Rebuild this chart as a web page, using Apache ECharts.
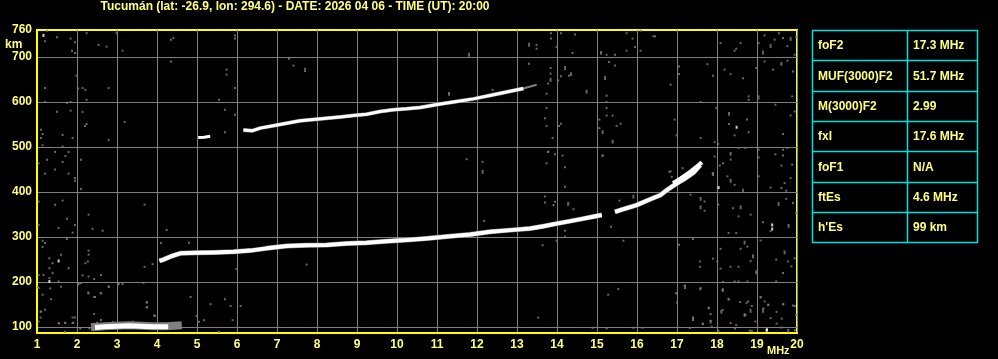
<!DOCTYPE html>
<html>
<head>
<meta charset="utf-8">
<script src="https://cdn.jsdelivr.net/npm/echarts@6/dist/echarts.min.js"></script>
<style>
html,body{margin:0;padding:0;background:#000;}
#chart{width:998px;height:359px;}
</style>
</head>
<body>
<div id="chart"></div>
<script>
// ---- data ----
const titleText = 'Tucumán (lat: -26.9, lon: 294.6) - DATE: 2026 04 06 - TIME (UT): 20:00';
const freqTicks = [1,2,3,4,5,6,7,8,9,10,11,12,13,14,15,16,17,18,19,20];
const heightTicks = [100,200,300,400,500,600,700,760];

const tableLabels = ['foF2','MUF(3000)F2','M(3000)F2','fxI','foF1',"ftEs","h'Es"];
const tableValues = ['17.3 MHz','51.7 MHz','2.99','17.6 MHz','N/A','4.6 MHz','99 km'];

// sporadic E trace [MHz, km]
const esTraceGray = [[2.35,100],[2.7,102],[3.0,103],[3.3,104],[3.6,103],[3.9,102],[4.2,102],[4.45,103],[4.62,104]];
const esTrace = [[2.45,99],[2.7,101],[3.0,102],[3.3,103],[3.6,102],[3.9,101],[4.28,101]];
// F2 ordinary trace, first segment
const f2TraceA = [[4.06,247],[4.16,250],[4.37,258],[4.58,264],[4.99,265],[5.41,266],[5.91,267.5],[6.33,270],[6.74,275],[7.24,280],[7.74,282],[8.24,282.5],[8.74,286],[9.24,287.5],[9.74,291],[10.24,293.5],[10.74,297],[11.33,302],[11.83,306],[12.33,312],[12.83,315.5],[13.33,319],[13.66,324],[13.99,330],[14.33,335.5],[14.66,341],[14.99,347],[15.12,349]];
// F2 trace, second segment (towards the cusp)
const f2TraceB = [[15.45,356],[15.66,362],[15.99,371],[16.33,384],[16.58,393],[16.74,404],[16.99,419],[17.2,430],[17.41,443],[17.58,460]];
// extraordinary edge near the critical frequency
const fxTrace = [[16.9,420],[17.1,431],[17.3,443],[17.5,457],[17.62,466]];
// second hop / upper trace
const upperTrace = [[6.16,538],[6.37,536],[6.58,542],[6.83,546],[7.24,553],[7.58,558.5],[7.91,561],[8.24,564],[8.58,567],[8.91,570],[9.24,573],[9.58,579],[9.91,583],[10.24,585],[10.58,588],[11.08,595.5],[11.41,600],[11.91,607],[12.41,616],[12.83,624],[13.16,630]];
const upperTail = [[13.16,630],[13.49,638.5]];
const smallBlob = [[5.03,521],[5.18,522],[5.33,524]];

// isolated white dots
const noiseWhite = [[1.54,247],[1.31,201.5],[18.49,544],[18.04,410],[19.38,327],[19.38,318],[19.25,94],[19.24,93],[1.16,748]];
// grey noise dots
const noiseGray = [
[1.25,758.5],[1.50,744],[1.20,735],[1.84,741],[1.95,733],[2.24,753],[1.875,714],[1.95,709],[2.54,727],[2.74,723],[3.14,714],[2.99,753],
[1.99,658.5],[1.20,631],[2.03,630],[2.14,631],[2.21,627],[2.79,631],[2.24,605],[1.20,600],[1.75,598.5],[1.84,600],[1.84,581],[1.50,578.5],
[2.14,578],[2.24,551],[2.20,547],[3.19,555.5],[1.10,538.5],[1.14,529],[1.10,520],[1.64,527],[1.89,520],[2.79,516],[1.14,504],[1.64,501],
[1.45,489],[1.79,489],[1.71,480],[1.25,472],[1.64,467],[1.04,464],[2.10,472],[1.45,450],[1.20,441],[1.79,441],[1.95,431],[1.95,425],
[2.10,407],[1.04,379],[1.45,372],[1.64,381],[3.69,372],[2.29,350],[1.75,341],[1.54,320],[1.95,327],[1.04,327],[2.39,318.5],[2.64,314],
[1.89,310],[1.75,296],[1.14,292],[1.20,287],[1.14,278],[4.10,287],[2.29,270],[2.29,261],[1.31,253],[1.60,261],[1.39,242],[1.31,231],
[1.79,231],[2.21,242],[2.27,246],[3.69,234],[3.89,240],[1.04,216],[1.16,216],[1.39,220],[1.31,209],[1.54,201.5],[2.04,196],[2.10,198],
[3.04,196],[3.14,196],[2.14,215],[2.29,212.5],[2.43,207],[2.60,216],[2.79,190],[1.04,187],[1.14,172],[1.35,162],[2.29,175],[2.43,167],
[2.60,175],[3.75,155],[3.75,144],[1.10,135],[1.20,138.5],[1.89,121.5],[1.89,109],[1.54,109],[1.71,109],[2.43,129],[2.60,116],[3.93,126],[1.04,112.5],
[1.02,188],[1.33,186],[1.60,190],[1.09,134],[1.09,121.5],[1.55,108],[1.70,110],[1.91,110],[1.95,121.5],[2.03,197],[2.28,177],[2.45,167],
[2.59,176],[2.80,190],[3.03,195.5],[3.66,198.5],[3.74,155.5],[3.74,144],[3.95,125],[4.84,167],[5.34,151],[5.70,162],[5.84,147],[6.09,147],
[5.89,115.5],[4.99,125],[5.05,112],[5.18,115.5],[5.55,90],[1.70,90],[2.08,97],[2.31,97],[2.5,110],[2.9,111],[3.4,112],[3.55,110],[4.1,108],[4.5,98],
[4.35,738.5],[4.41,742],[5.95,748],[5.95,741],[4.35,690],[5.74,672],[5.74,661],[5.95,631],[5.55,605],[5.70,583],[5.95,572],[5.70,533],
[7.30,696],[7.41,681],[7.70,674],[7.70,669],[4.8,287.5],[5.99,229],[7.74,239],[4.24,316],
[11.8,707],[11.8,703],[13.3,729.6],[13.3,725],[13.49,727],[13.49,718.5],[13.85,753],[14.1,753],[14.45,750],[13.85,741],[13.99,722],[14.39,709],
[15.1,711],[15.1,707],[15.24,705],[15.45,705],[15.74,753],[15.89,741],[15.95,722],[15.74,714],[16.09,758.5],[16.09,714],[16.41,746],[16.45,746],
[13.3,685],[13.84,675.5],[13.84,663],[13.84,651],[13.84,647],[14.1,657],[14.2,678],[14.2,673],[14.35,664],[14.35,660],[14.3,658.5],[14.03,648],[13.78,641],
[13.74,618.5],[14.74,625],[14.74,621],[15.2,655.5],[15.2,651],[15.3,689],[15.45,681],[15.24,614],[15.24,600],[15.24,587],[15.24,570],[15.39,570],
[15.06,561],[15.06,542],[15.14,535],[15.14,531],[15.49,547],[15.59,552],[15.39,514],[15.39,510],[13.74,587],[13.7,564],[13.74,547],[14.05,547],[14.1,552],
[13.89,520],[13.78,489],[13.95,484],[14.14,481],[15.14,481],[11.3,620],[11.3,616],[12.39,627],
[11.74,473],[12.14,467],[12.14,447],[12.14,443],[13.74,464],[13.78,490],[14.2,455],[15.14,481],[13.7,390],[13.7,377],[13.95,378.5],[13.91,371],
[14.28,376],[14.28,372],[14.41,362],[14.2,412],[12.18,336],[14.2,314],[14.2,301],[13.99,292],[13.64,282],[15.35,323],[15.66,292],[15.91,392],[15.91,388],
[15.56,381],[16.81,445],[16.87,434],[17.14,453],[17.31,447],[17.62,464],[17.89,441.5],
[13.53,121],[15.28,172],[15.53,185],[14.89,98.5],[15.24,97],[15.91,98.5],[16.14,98.5],[17.0,175],[17.0,155],[17.2,191],[17.2,187],[17.58,184],
[17.4,121.5],[17.8,143],[17.84,129],[17.84,114],[17.84,110],[17.64,108],[17.87,101],[18.03,90],[18.14,184],[18.14,180],[18.14,138],[18.29,161],
[18.45,97],[18.58,156],[18.74,154],[18.69,129],[18.69,125],[18.87,147],[18.87,92],[19.09,167],[19.16,141.5],[19.28,149],[19.49,134],[19.62,119],
[19.66,151],[19.49,108],[19.78,90],[19.95,147],[19.95,93],
[18.09,731],[18.48,718.5],[18.59,731],[18.44,714],[19.04,731],[19.15,712.5],[19.15,708],[19.19,748],[19.34,727],[19.34,722],[19.44,738.5],[19.55,753],
[19.65,742],[19.76,724],[19.84,742],[19.84,738],[19.94,705],[19.98,744],[17.05,679],[17.05,662],[17.76,684],[17.9,658.5],[18.19,672],[18.34,662],
[18.65,653],[18.98,675.5],[19.19,690],[19.40,672],[19.61,687],[19.61,683],[19.76,692],[19.9,668],[16.84,638.5],[17.59,600],[18.79,612.6],[18.79,605],
[19.04,612.6],[19.04,608],[19.46,594],[19.88,612.6],[17.98,587],[18.3,575.5],[18.3,572],[18.3,551],[18.75,561],[18.44,526],[18.79,533],[16.94,561],
[19.65,529],[19.84,570],[19.94,579],[16.99,526],[17.59,520],[17.94,511],[18.03,507],[18.34,487],[18.34,483],[18.54,498],[18.71,498],[19.04,494],
[19.04,477],[19.46,484],[19.65,494],[19.76,498],[19.65,481.5],[19.61,459],[19.88,461],[16.84,446],[17.94,479],[18.07,459],[18.15,464],
[18.34,472],[17.9,442],[17.9,438],[18.26,435],[18.34,427],[18.34,423],[18.44,416],[18.65,405],[18.65,401],[19.04,435],[19.34,410],[19.61,409],
[19.69,420],[19.73,403],[19.84,431],[17.34,394],[17.59,387],[17.59,383],[17.69,379],[17.59,368],[17.59,364],[17.69,358.5],[18.03,372],[18.40,364],
[18.59,368],[18.59,364],[18.54,346],[18.84,350],[19.15,333],[19.34,313],[19.54,375.5],[19.54,371],[19.73,385],[19.79,327],[19.79,323],[19.9,375.5],
[19.98,353],[18.29,309],[18.48,309],[18.69,290],[18.69,286],[19.09,292.5],[17.05,283],[17.4,296],[18.09,274],[18.59,274],[18.76,279],[18.9,259],[18.9,255],
[17.57,246],[17.57,234],[17.9,252],[18.01,246],[18.09,230],[18.34,234],[18.54,234],[18.84,247],[18.98,224],[18.98,220],[19.48,250],[19.69,268],[19.69,264],
[19.78,246],[19.86,235],[19.94,253],[19.65,220],[19.48,201.5],[18.15,200],[18.44,201.5],[18.54,201.5],[18.76,201.5],[17.59,187],[17.19,192.5],
[18.15,183],[18.29,163],[18.78,157],[18.84,138.5],[18.84,134],[18.71,127],[19.09,166],[19.19,157],[19.28,150],[19.15,138.5],[19.15,134],[19.34,120],
[19.65,151],[19.9,148],[19.98,127],[16.98,175.5],[17.4,120],[17.4,116],[17.65,107],[17.79,142],[17.84,114],[18.11,136],[18.11,132],[18.34,109],
[18.48,105],[18.96,112.5],[17.32,98],[18.03,92],[18.82,92],[19.61,99],[19.78,94]
];

// ---- chart ----
const chart = echarts.init(document.getElementById('chart'), null, {renderer:'canvas'});
const yellow = '#ffff80';
const gridGray = '#7f7f7f';
const cyan = '#00e0e0';
const font = 'Liberation Sans, Arial, sans-serif';

const tbl = {x:812, y:30, w:165, rowH:30.3, colX:907};
const graphics = [];
graphics.push({type:'rect', shape:{x:tbl.x+0.5,y:tbl.y+0.5,width:tbl.w,height:tbl.rowH*7}, style:{fill:'none',stroke:cyan,lineWidth:1.5}, z:10});
graphics.push({type:'line', shape:{x1:tbl.colX+0.5,y1:tbl.y,x2:tbl.colX+0.5,y2:tbl.y+tbl.rowH*7}, style:{stroke:cyan,lineWidth:1.5}, z:10});
for (let i=1;i<7;i++){
  const yy = Math.round(tbl.y+tbl.rowH*i)+0.5;
  graphics.push({type:'line', shape:{x1:tbl.x,y1:yy,x2:tbl.x+tbl.w,y2:yy}, style:{stroke:cyan,lineWidth:1.5}, z:10});
}
tableLabels.forEach((t,i)=>{
  const cy = tbl.y+tbl.rowH*(i+0.5)+1;
  graphics.push({type:'text', x:818, y:cy, style:{text:t, fill:yellow, font:'bold 12px '+font, textVerticalAlign:'middle'}, z:11});
  graphics.push({type:'text', x:913, y:cy, style:{text:tableValues[i], fill:yellow, font:'bold 12px '+font, textVerticalAlign:'middle'}, z:11});
});
graphics.push({type:'text', x:295, y:7, style:{text:titleText, fill:yellow, font:'bold 12px '+font, textAlign:'center', textVerticalAlign:'middle'}});
graphics.push({type:'text', x:5, y:45, style:{text:'km', fill:yellow, font:'bold 12px '+font, textVerticalAlign:'middle'}});
graphics.push({type:'text', x:767, y:351, style:{text:'MHz', fill:yellow, font:'bold 11px '+font, textVerticalAlign:'middle'}, z:20});

function lineSeries(data, color, width, z){
  return {type:'line', data:data, showSymbol:false, symbol:'none', silent:true, animation:false,
    lineStyle:{color:color, width:width, cap:'butt', join:'round'}, z:z, clip:true};
}

const option = {
  backgroundColor:'#000',
  animation:false,
  grid:{left:37, right:201, top:30, bottom:26, show:true, borderColor:'#ffff00', borderWidth:2, backgroundColor:'transparent'},
  xAxis:{type:'value', min:1, max:20, interval:1,
    axisLine:{show:true, lineStyle:{color:'#ffff00', width:2}},
    axisTick:{show:false},
    axisLabel:{color:yellow, fontWeight:'bold', fontSize:12, fontFamily:font, margin:6,
      customValues:freqTicks, formatter:(v)=>String(v)},
    splitLine:{show:true, lineStyle:{color:gridGray, width:1}}},
  yAxis:{type:'value', min:87, max:760,
    axisLine:{show:true, lineStyle:{color:'#ffff00', width:2}},
    axisTick:{show:false, customValues:heightTicks.slice(0,7)},
    axisLabel:{color:yellow, fontWeight:'bold', fontSize:12, fontFamily:font, margin:5,
      customValues:heightTicks, formatter:(v)=>String(v)},
    splitLine:{show:true, lineStyle:{color:gridGray, width:1}}},
  graphic:graphics,
  series:[
    {type:'scatter', data:noiseGray, symbol:'rect', symbolSize:[2,2], itemStyle:{color:'#808080'}, silent:true, z:3},
    {type:'scatter', data:noiseWhite, symbol:'rect', symbolSize:[2,3], itemStyle:{color:'#ffffff'}, silent:true, z:4},
    lineSeries(esTraceGray, '#808080', 8, 4),
    lineSeries(esTrace, '#ffffff', 5, 5),
    lineSeries(f2TraceA, '#808080', 5, 4),
    lineSeries(f2TraceA, '#ffffff', 4, 5),
    lineSeries(f2TraceB, '#808080', 5, 4),
    lineSeries(f2TraceB, '#ffffff', 4, 5),
    lineSeries(fxTrace, '#ffffff', 4, 5),
    lineSeries(upperTrace, '#808080', 4, 4),
    lineSeries(upperTrace, '#ffffff', 3, 5),
    lineSeries(upperTail, '#808080', 2, 4),
    lineSeries(smallBlob, '#ffffff', 3, 5)
  ]
};
chart.setOption(option);
</script>
</body>
</html>
